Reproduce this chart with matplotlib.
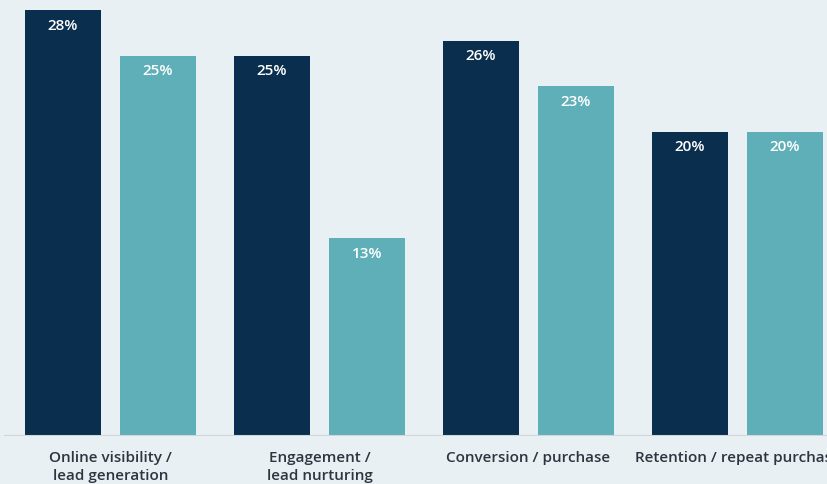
import matplotlib.pyplot as plt
import numpy as np

categories = ["Online visibility /\nlead generation", "Engagement /\nlead nurturing",
              "Conversion / purchase", "Retention / repeat purchase"]
series_a = [28, 25, 26, 20]
series_b = [25, 13, 23, 20]

bg = "#e8f0f3"
dark = "#0a2e4d"
teal = "#5eafb8"

plt.rcParams['font.family'] = ['Open Sans', 'DejaVu Sans']

fig = plt.figure(figsize=(8.27, 4.84), dpi=100, facecolor=bg)
ax = fig.add_axes([0, 48 / 484, 1, 436 / 484])
ax.set_facecolor(bg)

x = np.arange(len(categories))
w = 76 / 209
off = 47.5 / 209
ax.bar(x - off, series_a, w, color=dark)
ax.bar(x + off, series_b, w, color=teal)

for xi, va_, vb_ in zip(x, series_a, series_b):
    for xx, v in ((xi - off, va_), (xi + off, vb_)):
        ax.text(xx, v - 1.0, f"{v}%", ha="center", va="center", color="white",
                fontsize=11, fontweight="semibold")
    ax.text(xi, -0.97, categories[xi], ha="center", va="top", color="#2d3540",
            fontsize=11, fontweight="semibold", linespacing=1.4, clip_on=False)

ax.axhline(0, xmin=5 / 827, xmax=1, color="#cfd6da", lw=1.5)
ax.set_xlim(-110.5 / 209, (827 - 110.5) / 209)
ax.set_ylim(0, 436 / 15.2)
ax.axis("off")

fig.savefig("out.png", facecolor=bg)
